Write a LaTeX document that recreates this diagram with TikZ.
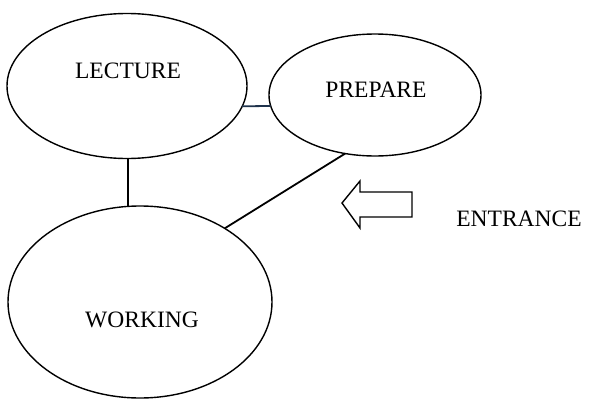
\documentclass[tikz,border=0pt]{standalone}
\usepackage{fontspec}
\setmainfont{Liberation Serif}
\usetikzlibrary{shapes.geometric}
\definecolor{navyline}{rgb}{0.12,0.2,0.3}
\begin{document}
\begin{tikzpicture}[x=1pt,y=-1pt,
  oval/.style={draw, ellipse, line width=1.4pt, inner sep=0pt, outer sep=0pt},
  txt/.style={anchor=base, inner sep=0pt, font=\fontsize{23.5}{28}\selectfont},
  link/.style={line width=1.8pt}]
\useasboundingbox[fill=white] (0,0) rectangle (590,399);
\node[oval, minimum width=240pt, minimum height=145pt] (lec) at (127,86) {};
\node[oval, minimum width=212pt, minimum height=122pt] (prep) at (375,95) {};
\node[oval, minimum width=264pt, minimum height=192pt] (work) at (140,302) {};
\node[txt] (lect) at (128,78) {LECTURE};
\node[txt] (prept) at (376,97) {PREPARE};
\node[txt] (workt) at (142,327) {WORKING};
\node[txt] (entt) at (519,226) {ENTRANCE};
\draw[link, navyline] (lec.-10.3) -- (prep.186.6);
\draw[link] (lec.-89) -- (lec.-89 |- work.96.5);
\draw[link] (prep.243) -- (work.41);
\draw[line width=1.4pt, line join=miter] (342,203) -- (360,181) -- (360,192) -- (412,192) -- (412,217) -- (360,217) -- (360,228) -- cycle;
\end{tikzpicture}
\end{document}
